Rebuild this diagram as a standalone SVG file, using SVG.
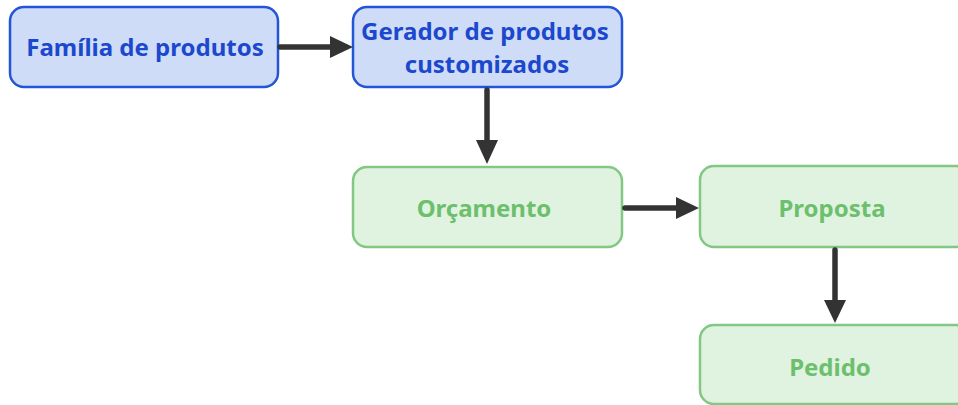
<svg xmlns="http://www.w3.org/2000/svg" width="958" height="405" viewBox="0 0 958 405">
<defs>
<style>
.blue rect{fill:#cfdcf7;stroke:#2356d6;stroke-width:2.5}
.blue text{fill:#1b48cc}
.green rect{fill:#e0f3e0;stroke:#82c882;stroke-width:2.5}
.green text{fill:#6cbf6c}
text{font-family:"Noto Sans","Open Sans",sans-serif;font-weight:bold;font-size:24px;text-anchor:middle}
.conn line{stroke:#333;stroke-width:5.5;stroke-linecap:round}
.conn path{fill:#333}
</style>
</defs>
<rect width="958" height="405" fill="#fff"/>
<g id="n1" class="blue"><rect x="10" y="7" width="268" height="80" rx="14"/><text x="145" y="56">Família de produtos</text></g>
<g id="n2" class="blue"><rect x="353" y="7" width="269" height="80" rx="14"/><text x="485" y="40">Gerador de produtos</text><text x="487" y="73">customizados</text></g>
<g id="n3" class="green"><rect x="353" y="167" width="269" height="80" rx="14"/><text x="484" y="217">Orçamento</text></g>
<g id="n4" class="green"><rect x="700" y="166" width="270" height="81" rx="14"/><text x="832" y="217">Proposta</text></g>
<g id="n5" class="green"><rect x="700" y="325" width="270" height="79" rx="14"/><text x="830" y="376">Pedido</text></g>
<g id="connectors" class="conn">
<line x1="280" y1="47" x2="332" y2="47"/><path d="M330 36 L353 47 L330 58 Z"/>
<line x1="487" y1="90" x2="487" y2="142"/><path d="M476 140 L487 164 L498 140 Z"/>
<line x1="625" y1="208" x2="678" y2="208"/><path d="M676 197 L699 208 L676 219 Z"/>
<line x1="835" y1="250" x2="835" y2="302"/><path d="M824 300 L835 323 L846 300 Z"/>
</g>
</svg>
